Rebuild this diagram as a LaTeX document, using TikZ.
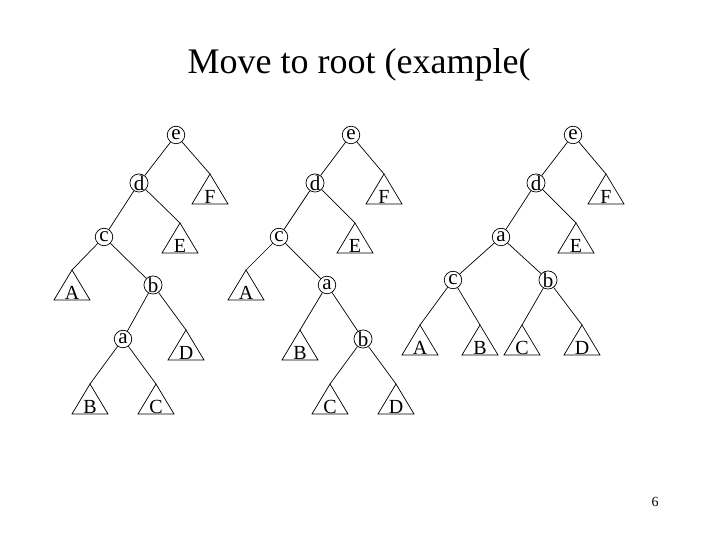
\documentclass[tikz,border=0pt]{standalone}
\usepackage{fontspec}
\setmainfont{Liberation Serif}
\usetikzlibrary{calc}

\tikzset{
	inner/.style={circle, draw, inner sep=0pt, minimum size=17.5pt,
		font=\rmfamily\fontsize{21}{21}\selectfont},
	leaflabel/.style={anchor=base, inner sep=0pt,
		font=\rmfamily\fontsize{20}{20}\selectfont}
}

% a subtree drawn as a triangle: name, apex, letter
\newcommand{\leaf}[3]{%
	\coordinate (#1) at #2;
	\draw (#1) -- ++(-\lw,-\lh) -- ++(2*\lw,0) -- cycle;
	\node[leaflabel] (#1l) at ($(#1)+(0,-\lh)$) {#3};
}

\begin{document}
\begin{tikzpicture}[x=1pt, y=1pt, line width=0.7pt]
	
	% ---- (A) parameters ----
	\def\lw{18}   % half width of a triangle
	\def\lh{30}   % height of a triangle
	
	\useasboundingbox (0,0) rectangle (720,540);
	
	% ---- (B) title and page number ----
	\node[anchor=base, inner sep=0pt, font=\rmfamily\fontsize{36}{36}\selectfont]
	(title) at (359,466) {Move to root (example(};
	\node[anchor=base, inner sep=0pt, font=\rmfamily\fontsize{14}{14}\selectfont]
	(page) at (655,33) {6};
	
	% ---- (C) first tree ----
	\node[inner] (e1) at (176,405) {e};
	\node[inner] (d1) at (139,357) {d};
	\node[inner] (c1) at (104,303) {c};
	\node[inner] (b1) at (153,255) {b};
	\node[inner] (a1) at (123,201) {a};
	\leaf{F1}{(210,366)}{F}
	\leaf{E1}{(180,317)}{E}
	\leaf{A1}{(72,270)}{A}
	\leaf{D1}{(186,210)}{D}
	\leaf{B1}{(90,156)}{B}
	\leaf{C1}{(156,156)}{C}
	\draw (e1) -- (d1);  \draw (e1) -- (F1);
	\draw (d1) -- (c1);  \draw (d1) -- (E1);
	\draw (c1) -- (A1);  \draw (c1) -- (b1);
	\draw (b1) -- (a1);  \draw (b1) -- (D1);
	\draw (a1) -- (B1);  \draw (a1) -- (C1);
	
	% ---- (D) second tree ----
	\node[inner] (e2) at (351,405) {e};
	\node[inner] (d2) at (315,357) {d};
	\node[inner] (c2) at (279,303) {c};
	\node[inner] (a2) at (327,255) {a};
	\node[inner] (b2) at (363,201) {b};
	\leaf{F2}{(384,366)}{F}
	\leaf{E2}{(355,317)}{E}
	\leaf{A2}{(246,270)}{A}
	\leaf{B2}{(300,210)}{B}
	\leaf{C2}{(330,156)}{C}
	\leaf{D2}{(396,156)}{D}
	\draw (e2) -- (d2);  \draw (e2) -- (F2);
	\draw (d2) -- (c2);  \draw (d2) -- (E2);
	\draw (c2) -- (A2);  \draw (c2) -- (a2);
	\draw (a2) -- (B2);  \draw (a2) -- (b2);
	\draw (b2) -- (C2);  \draw (b2) -- (D2);
	
	% ---- (E) third tree ----
	\node[inner] (e3) at (573,405) {e};
	\node[inner] (d3) at (536,357) {d};
	\node[inner] (a3) at (501,303) {a};
	\node[inner] (c3) at (453,260) {c};
	\node[inner] (b3) at (548,260) {b};
	\leaf{F3}{(606,366)}{F}
	\leaf{E3}{(576,317)}{E}
	\leaf{A3}{(420,215)}{A}
	\leaf{B3}{(480,215)}{B}
	\leaf{C3}{(522,215)}{C}
	\leaf{D3}{(582,215)}{D}
	\draw (e3) -- (d3);  \draw (e3) -- (F3);
	\draw (d3) -- (a3);  \draw (d3) -- (E3);
	\draw (a3) -- (c3);  \draw (a3) -- (b3);
	\draw (c3) -- (A3);  \draw (c3) -- (B3);
	\draw (b3) -- (C3);  \draw (b3) -- (D3);
	
\end{tikzpicture}
\end{document}
